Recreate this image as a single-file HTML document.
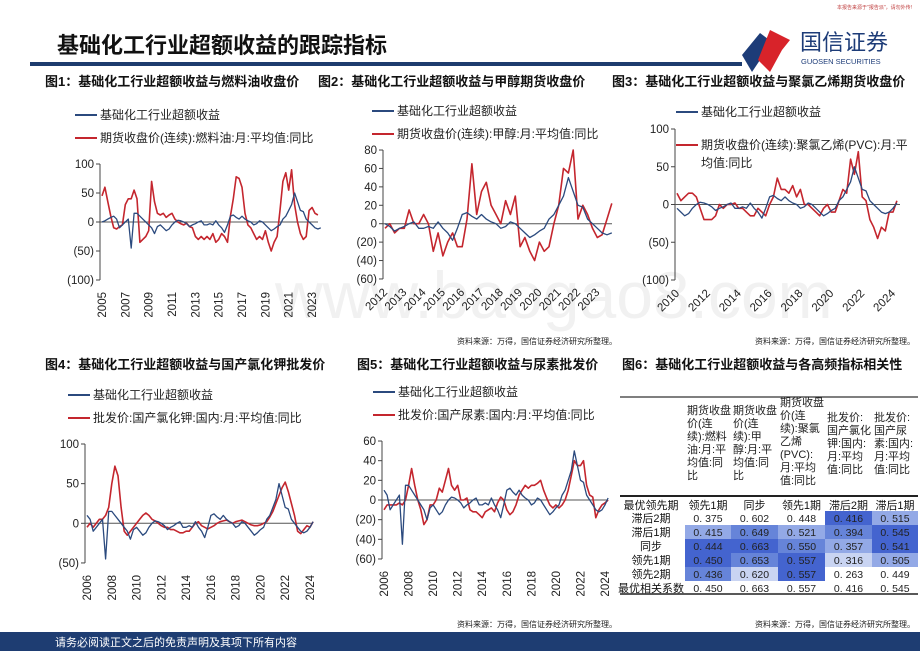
<!DOCTYPE html>
<html><head><meta charset="utf-8">
<style>
html,body{margin:0;padding:0;background:#fff;}
body{width:920px;height:651px;overflow:hidden;position:relative;font-family:"Liberation Sans","Noto Sans CJK SC",sans-serif;}
svg{position:absolute;left:0;top:0;}
text{font-family:"Liberation Sans","Noto Sans CJK SC",sans-serif;}
</style></head>
<body>
<svg id="s" width="920" height="651" viewBox="0 0 920 651">
  <text x="275" y="318" font-size="66" fill="#f1f1f1">www.baogao8.com</text>
  <text x="912" y="9" font-size="5" fill="#c04040" text-anchor="end">本报告来源于"报告派"，请勿外传!</text>
  <text x="57" y="53" font-size="22" font-weight="bold" fill="#111">基础化工行业超额收益的跟踪指标</text>
  <rect x="30" y="62" width="712" height="4" fill="#1d3c6e"/>
  <g>
    <polygon points="742,55 760,33 772,42 752,72" fill="#1d3c78"/>
    <polygon points="758,60 770,30 790,40 782,50 770,72" fill="#d8232a"/>
    <text x="800" y="50" font-size="22" fill="#1d3c78">国信证券</text>
    <text x="801" y="64" font-size="7.5" fill="#1d3c78">GUOSEN SECURITIES</text>
  </g>
  <g font-size="13" font-weight="bold" fill="#111">
    <text x="45" y="86">图1：基础化工行业超额收益与燃料油收盘价</text>
    <text x="318" y="86">图2：基础化工行业超额收益与甲醇期货收盘价</text>
    <text x="612" y="86">图3：基础化工行业超额收益与聚氯乙烯期货收盘价</text>
    <text x="45" y="369">图4：基础化工行业超额收益与国产氯化钾批发价</text>
    <text x="357" y="369">图5：基础化工行业超额收益与尿素批发价</text>
    <text x="622" y="369">图6：基础化工行业超额收益与各高频指标相关性</text>
  </g>
  <g font-size="8" fill="#222">
    <text x="617" y="344" text-anchor="end">资料来源：万得，国信证券经济研究所整理。</text>
    <text x="915" y="344" text-anchor="end">资料来源：万得，国信证券经济研究所整理。</text>
    <text x="617" y="627" text-anchor="end">资料来源：万得，国信证券经济研究所整理。</text>
    <text x="915" y="627" text-anchor="end">资料来源：万得，国信证券经济研究所整理。</text>
  </g>
  <rect x="0" y="632" width="920" height="19" fill="#1e3d72"/>
  <text x="55" y="646" font-size="11" fill="#fff">请务必阅读正文之后的免责声明及其项下所有内容</text>
  <g id="charts"></g>
  <g id="table"></g>
</svg>
<script>
// Excess return (blue), quarterly from 2005Q1
const blueStart = 2005;
const blueVals = [0,2,5,8, 10,5,-10,-5, 0,5,-45,15, 15,10,5,0, -5,-10,-20,-8, -5,-10,-15,-12, -5,0,3,2, 0,-3,-8,-5, -3,0,2,-5, -5,-3,-5,2, -5,-10,-18,-5, 10,12,8,5, 10,5,2,0, -5,-3,2,0, -5,-10,-15,-12, -8,-5,5,10, 20,30,50,35, 20,18,5,0, -5,-10,-12,-10, -5,2];
// Fuel oil YoY, quarterly from 2005Q1
const red1Start = 2005;
const red1Vals = [45,60,35,10, -10,-12,-8,-5, 30,40,40,55, 40,-35,-30,-25, -15,70,35,15, 12,15,8,12, 15,5,0,-3, -5,-2,-8,-10, -25,-30,-25,-30, -25,-30,-20,-35, -30,-20,-25,-35, 10,40,78,75, 60,15,-5,-10, -20,-30,-25,-30, -15,-35,-50,-35, -25,20,70,85, 55,90,30,0, -20,-30,-25,20, 25,15,12];
// Methanol YoY, from 2012Q1
const red2Start = 2012;
const red2Vals = [-5,0,-10,-5, -5,15,0,0, 10,0,-30,-10, -35,-20,-10,-25, -25,5,65,10, 35,45,20,10, 0,25,10,30, -25,-15,-30,-40, -20,-30,-25,0, 20,60,55,80, 5,20,10,-5, -15,-12,5,22];
// PVC YoY, from 2010Q1
const red3Start = 2010;
const red3Vals = [15,5,10,15, 15,10,-5,-20, -20,-20,-15,0, -5,0,0,2, -5,-5,-10,-15, -15,-5,-10,-15, 0,10,35,20, 20,15,25,10, 20,0,0,-5, -10,-15,-5,0, -10,-10,5,20, 15,60,40,70, 10,5,-20,-30, -45,-30,-35,-10, -10,5];
// KCl wholesale YoY, from 2006Q1
const red4Start = 2006;
const red4Vals = [-5,0,-5,0, 5,5,10,20, 50,72,60,20, -10,-15,-10,-5, 0,5,10,13, 10,5,3,0, -3,-5,-5,-8, -8,-10,-12,-12, -10,-10,-5,0, 2,-3,-5,-7, -5,-3,0,2, 3,4,2,0, 2,3,4,2, 0,-2,-3,-3, -2,0,2,8, 15,25,35,45, 52,40,25,10, -10,-13,-8,-3, -5,2];
// Urea wholesale YoY, from 2006Q1
const red5Start = 2006;
const red5Vals = [-10,-5,-5,-5, -5,-3,-5,0, 15,32,15,0, -10,-25,-20,-5, -5,0,12,8, 20,32,15,10, 15,0,0,2, -10,-12,-12,-15, -18,-12,-10,-8, -12,-3,3,0, -10,-15,-12,-5, 5,10,15,12, 15,15,17,20, 10,2,-5,-8, -5,-8,-5,0, 10,25,40,35, 35,40,15,5, 3,-18,-10,-5, -3,0];
const ticks1 = [100,50,0,-50,-100], ticks2=[80,60,40,20,0,-20,-40,-60], ticks3=[100,50,0,-50,-100], ticks4=[100,50,0,-50], ticks5=[60,40,20,0,-20,-40,-60];
const years1=[2005,2007,2009,2011,2013,2015,2017,2019,2021,2023];
const years2=[2012,2013,2014,2015,2016,2017,2018,2019,2020,2021,2022,2023];
const years3=[2010,2012,2014,2016,2018,2020,2022,2024];
const years45=[2006,2008,2010,2012,2014,2016,2018,2020,2022,2024];
const blueLabel='基础化工行业超额收益';

const NS='http://www.w3.org/2000/svg';
function mk(tag,attrs,parent){const e=document.createElementNS(NS,tag);for(const k in attrs)e.setAttribute(k,attrs[k]);parent.appendChild(e);return e;}
function fmt(v){return v<0?'('+(-v)+')':String(v);}

function chart(c){
  const g=mk('g',{},document.getElementById('charts'));
  
  
  const xs=t=>c.x0+(t-c.yr0)*c.ppy;
  const ys=v=>c.yz-v*c.ppu;
  const top=ys(c.ticks[0]), bot=ys(c.ticks[c.ticks.length-1]);
  const ax=mk('line',{x1:c.x0-2,x2:c.x0-2,y1:top,y2:bot,stroke:'#444','stroke-width':1},g);
  
  
  c.ticks.forEach(v=>{
    mk('line',{x1:c.x0-6,x2:c.x0-2,y1:ys(v),y2:ys(v),stroke:'#444'},g);
    const t=mk('text',{x:c.x0-8,y:ys(v)+4,'font-size':11.5,'text-anchor':'end',fill:'#222'},g);
    t.textContent=fmt(v);
    
    
  });
  const zl=mk('line',{x1:c.x0-2,x2:c.xe,y1:ys(0),y2:ys(0),stroke:'#555','stroke-width':1},g);
  
  
  c.years.forEach(y=>{
    const x=xs(y);
    const t=mk('text',{'font-size':11.5,'text-anchor':'end',fill:'#222'},g);
    if(c.rot===90){t.setAttribute('x',x+4);t.setAttribute('y',bot+12);t.setAttribute('transform','rotate(-90 '+(x+4)+' '+(bot+12)+')');}
    else{t.setAttribute('x',x+3);t.setAttribute('y',bot+14);t.setAttribute('transform','rotate(-45 '+(x+3)+' '+(bot+14)+')');}
    t.textContent=y;
    
    
  });
  function series(start,vals,color,w,name){
    const pts=[];
    vals.forEach((v,i)=>{const t=start+i*0.25;if(t>=c.yr0-0.001&&t<=c.tEnd)pts.push(xs(t).toFixed(1)+','+ys(v).toFixed(1));});
    const p=mk('polyline',{points:pts.join(' '),fill:'none',stroke:color,'stroke-width':w,'stroke-linejoin':'round'},g);
    
    
  }
  series(c.rs,c.rv,'#c4262e',1.6,'series-commodity');
  series(blueStart,blueVals,'#2b4a7e',1.3,'series-excess-return');
  const l1=mk('line',{x1:c.lx,x2:c.lx+22,y1:c.ly1,y2:c.ly1,stroke:'#2b4a7e','stroke-width':2},g);
  
  
  const t1=mk('text',{x:c.lx+25,y:c.ly1+4,'font-size':12,fill:'#222'},g);t1.textContent=blueLabel;
  
  
  const l2=mk('line',{x1:c.lx,x2:c.lx+22,y1:c.ly2,y2:c.ly2,stroke:'#c4262e','stroke-width':2},g);
  
  
  c.lab.forEach((s,i)=>{
    const t=mk('text',{x:c.lx+25,y:c.ly2+4+i*18,'font-size':12,fill:'#222'},g);t.textContent=s;
    
    
  });
}
chart({name:'chart-fuel-oil',x0:102,yr0:2005,ppy:11.67,yz:222,ppu:0.58,ticks:ticks1,years:years1,rot:90,tEnd:2023.75,xe:318,rs:red1Start,rv:red1Vals,lx:75,ly1:115,ly2:138,lab:['期货收盘价(连续):燃料油:月:平均值:同比']});
chart({name:'chart-methanol',x0:385,yr0:2012,ppy:19.3,yz:223.7,ppu:0.921,ticks:ticks2,years:years2,rot:45,tEnd:2023.8,xe:612,rs:red2Start,rv:red2Vals,lx:372,ly1:111,ly2:134,lab:['期货收盘价(连续):甲醇:月:平均值:同比']});
chart({name:'chart-pvc',x0:677,yr0:2010,ppy:15.43,yz:204.5,ppu:0.755,ticks:ticks3,years:years3,rot:45,tEnd:2024.5,xe:900,rs:red3Start,rv:red3Vals,lx:676,ly1:112,ly2:145,lab:['期货收盘价(连续):聚氯乙烯(PVC):月:平','均值:同比']});
chart({name:'chart-potassium-chloride',x0:87,yr0:2006,ppy:12.39,yz:523.3,ppu:0.793,ticks:ticks4,years:years45,rot:90,tEnd:2024.4,xe:312,rs:red4Start,rv:red4Vals,lx:68,ly1:395,ly2:418,lab:['批发价:国产氯化钾:国内:月:平均值:同比']});
chart({name:'chart-urea',x0:384,yr0:2006,ppy:12.28,yz:500,ppu:0.983,ticks:ticks5,years:years45,rot:90,tEnd:2024.5,xe:607,rs:red5Start,rv:red5Vals,lx:373,ly1:392,ly2:415,lab:['批发价:国产尿素:国内:月:平均值:同比']});

// Correlation table
const colHeaders=[['期货收盘','价(连','续):燃料','油:月:平','均值:同','比'],['期货收盘','价(连','续):甲','醇:月:平','均值:同','比'],['期货收盘','价(连','续):聚氯','乙烯','(PVC):','月:平均','值:同比'],['批发价:','国产氯化','钾:国内:','月:平均','值:同比'],['批发价:','国产尿','素:国内:','月:平均','值:同比']];
const bestLag=['领先1期','同步','领先1期','滞后2期','滞后1期'];
const rowLabels=['滞后2期','滞后1期','同步','领先1期','领先2期'];
const corr=[[0.375,0.602,0.448,0.416,0.515],[0.415,0.649,0.521,0.394,0.545],[0.444,0.663,0.550,0.357,0.541],[0.450,0.653,0.557,0.316,0.505],[0.436,0.620,0.557,0.263,0.449]];
const shade=[[0,0,0,4,2],[2,3,2,3,4],[4,4,3,2,4],[4,3,4,1,2],[3,1,4,0,0]];
const bestCorr=[0.450,0.663,0.557,0.416,0.545];
(function(){
  const g=document.getElementById('table');
  
  
  const colors=['none','#c9d4f2','#93a9e6','#6684d9','#4464cf'];
  const cx=[685,731,778,825,872], cw=[46,47,47,47,46];
  mk('line',{x1:620,x2:918,y1:397,y2:397,stroke:'#333','stroke-width':1.2},g);
  mk('line',{x1:620,x2:918,y1:496,y2:496,stroke:'#222','stroke-width':2},g);
  mk('line',{x1:620,x2:918,y1:594,y2:594,stroke:'#222','stroke-width':1.5},g);
  colHeaders.forEach((lines,j)=>{
    const y0=lines.length===7?406:(lines.length===5?421:414);
    lines.forEach((s,k)=>{const t=mk('text',{x:cx[j]+2,y:y0+k*13,'font-size':11,fill:'#222'},g);t.textContent=s;
      
      });
  });
  const rowY=[518,532,546,560,574];
  const lh=mk('text',{x:651,y:509,'font-size':11,'text-anchor':'middle',fill:'#111'},g);lh.textContent='最优领先期';
  
  
  bestLag.forEach((s,j)=>{const t=mk('text',{x:cx[j]+cw[j]/2,y:509,'font-size':11,'text-anchor':'middle',fill:'#111'},g);t.textContent=s;
    
    });
  rowLabels.forEach((s,i)=>{
    const t=mk('text',{x:651,y:rowY[i]+4,'font-size':11,'text-anchor':'middle',fill:'#111'},g);t.textContent=s;
    
    
    corr[i].forEach((v,j)=>{
      if(shade[i][j]>0){const r=mk('rect',{x:cx[j],y:rowY[i]-7,width:cw[j],height:14,fill:colors[shade[i][j]]},g);
        
        }
      const tt=mk('text',{x:cx[j]+cw[j]/2,y:rowY[i]+4,'font-size':10.5,'text-anchor':'middle',fill:'#222'},g);tt.textContent=v.toFixed(3).replace('0.','0. ');
      
      
    });
  });
  const lb=mk('text',{x:651,y:592,'font-size':11,'text-anchor':'middle',fill:'#111'},g);lb.textContent='最优相关系数';
  
  
  bestCorr.forEach((v,j)=>{const t=mk('text',{x:cx[j]+cw[j]/2,y:592,'font-size':10.5,'text-anchor':'middle',fill:'#222'},g);t.textContent=v.toFixed(3).replace('0.','0. ');
    
    });
})();
</script>
</body></html>
